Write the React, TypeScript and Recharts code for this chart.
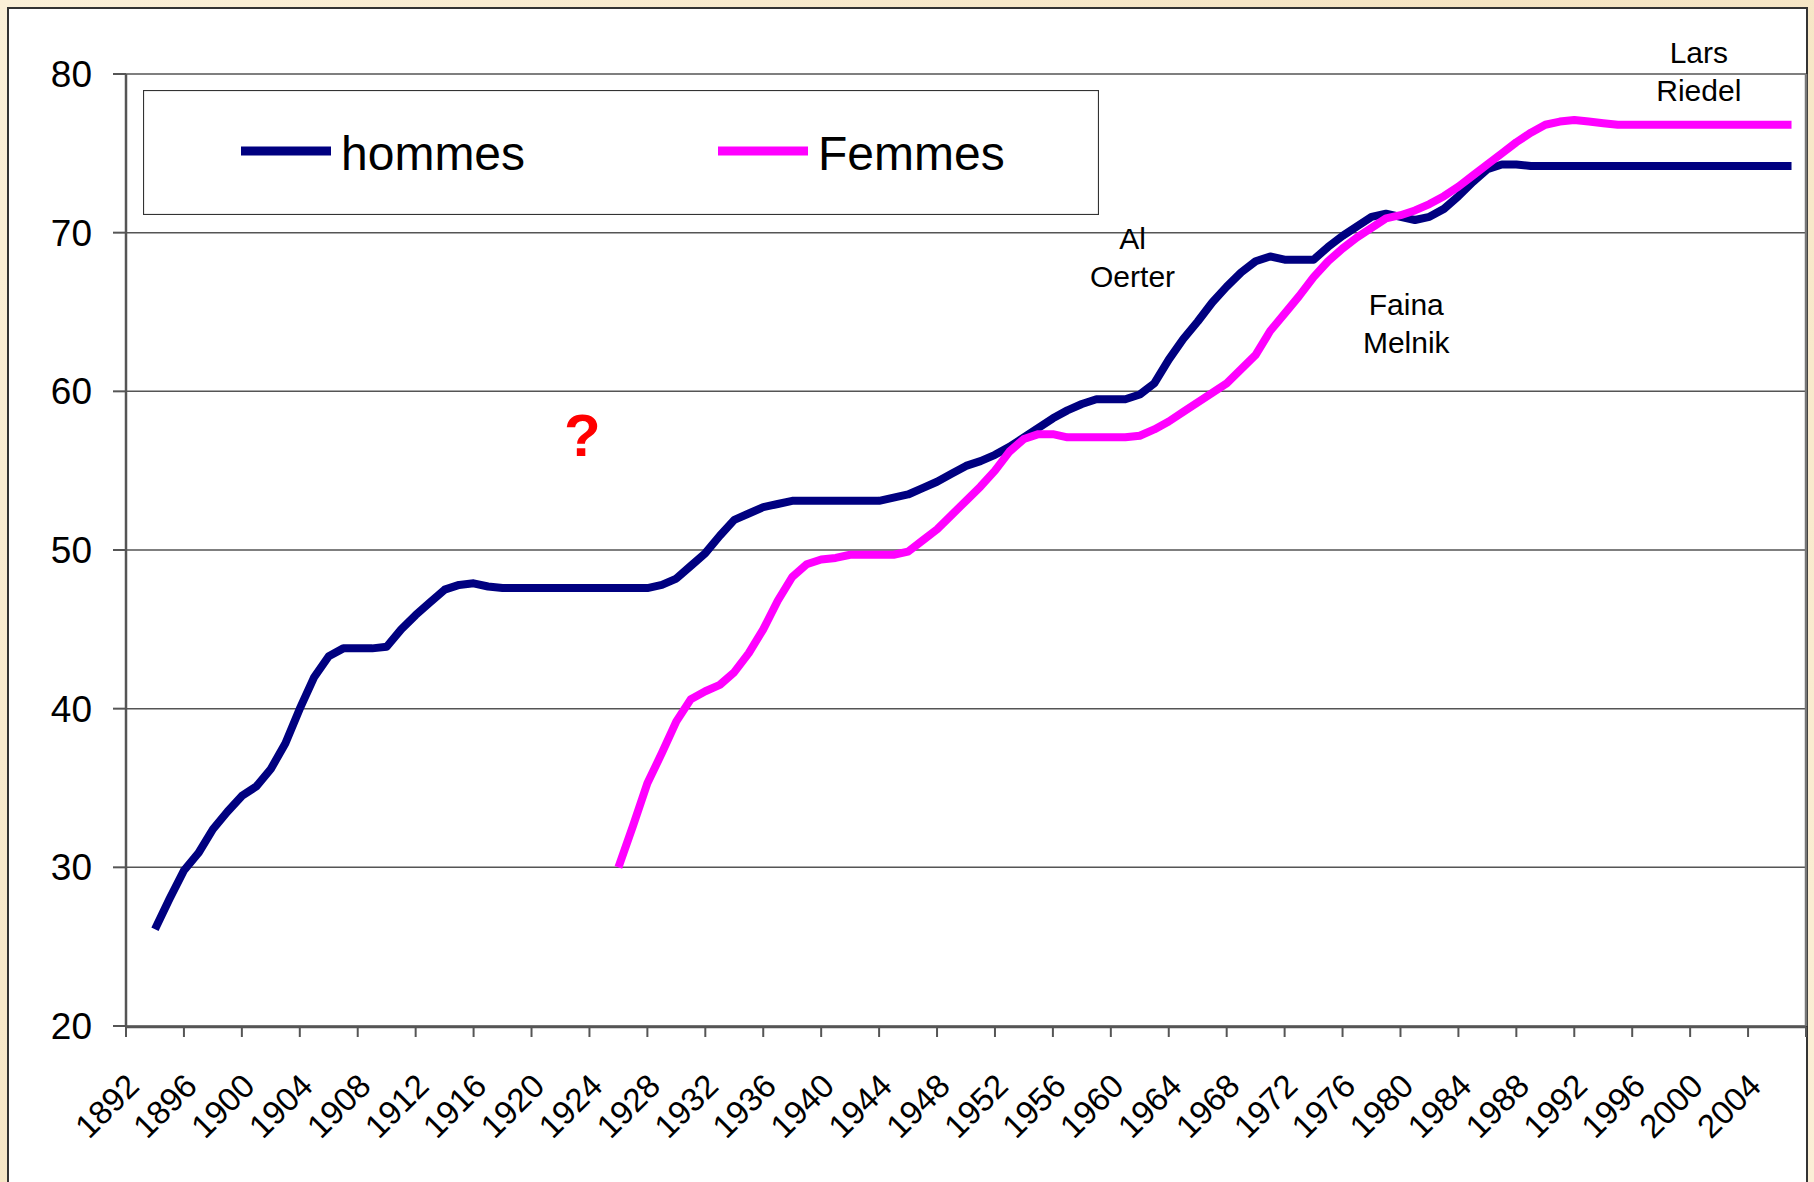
import React from "react";
import {
  LineChart,
  Line,
  XAxis,
  YAxis,
  CartesianGrid,
  ReferenceLine,
  ReferenceDot,
} from "recharts";

// discus records, one value per year
const hommesStart = 1892;
const hommes = [
  26.1, 28.0, 29.8, 30.9, 32.4, 33.5, 34.5, 35.1, 36.2, 37.8,
  40.0, 42.0, 43.3, 43.8, 43.8, 43.8, 43.9, 45.0, 45.9, 46.7,
  47.5, 47.8, 47.9, 47.7, 47.6, 47.6, 47.6, 47.6, 47.6, 47.6,
  47.6, 47.6, 47.6, 47.6, 47.6, 47.8, 48.2, 49.0, 49.8, 50.9,
  51.9, 52.3, 52.7, 52.9, 53.1, 53.1, 53.1, 53.1, 53.1, 53.1,
  53.1, 53.3, 53.5, 53.9, 54.3, 54.8, 55.3, 55.6, 56.0, 56.5,
  57.1, 57.7, 58.3, 58.8, 59.2, 59.5, 59.5, 59.5, 59.8, 60.5,
  62.0, 63.3, 64.4, 65.6, 66.6, 67.5, 68.2, 68.5, 68.3, 68.3,
  68.3, 69.1, 69.8, 70.4, 71.0, 71.2, 71.0, 70.8, 71.0, 71.5,
  72.3, 73.2, 74.0, 74.3, 74.3, 74.2, 74.2, 74.2, 74.2, 74.2,
  74.2, 74.2, 74.2, 74.2, 74.2, 74.2, 74.2, 74.2, 74.2, 74.2,
  74.2, 74.2, 74.2, 74.2,
];

const femmesStart = 1924;
const femmes = [
  30.0, 32.6, 35.3, 37.2, 39.2, 40.6, 41.1, 41.5, 42.3, 43.5,
  45.0, 46.8, 48.3, 49.1, 49.4, 49.5, 49.7, 49.7, 49.7, 49.7,
  49.9, 50.6, 51.3, 52.2, 53.1, 54.0, 55.0, 56.2, 57.0, 57.3,
  57.3, 57.1, 57.1, 57.1, 57.1, 57.1, 57.2, 57.6, 58.1, 58.7,
  59.3, 59.9, 60.5, 61.4, 62.3, 63.8, 64.9, 66.0, 67.2, 68.2,
  69.0, 69.7, 70.3, 70.9, 71.1, 71.4, 71.8, 72.3, 72.9, 73.6,
  74.3, 75.0, 75.7, 76.3, 76.8, 77.0, 77.1, 77.0, 76.9, 76.8,
  76.8, 76.8, 76.8, 76.8, 76.8, 76.8, 76.8, 76.8, 76.8, 76.8,
  76.8, 76.8,
];

const yTicks = [20, 30, 40, 50, 60, 70, 80];
const yearLabels = [
  1892, 1896, 1900, 1904, 1908, 1912, 1916, 1920, 1924, 1928,
  1932, 1936, 1940, 1944, 1948, 1952, 1956, 1960, 1964, 1968,
  1972, 1976, 1980, 1984, 1988, 1992, 1996, 2000, 2004,
];
const yearMarks = [
  1890, 1894, 1898, 1902, 1906, 1910, 1914, 1918, 1922, 1926,
  1930, 1934, 1938, 1942, 1946, 1950, 1954, 1958, 1962, 1966,
  1970, 1974, 1978, 1982, 1986, 1990, 1994, 1998, 2002, 2006,
];

const notes = [
  { year: 1959.5, value: 69.0, lines: ["Al", "Oerter"] },
  { year: 1978.4, value: 64.8, lines: ["Faina", "Melnik"] },
  { year: 1998.6, value: 80.7, lines: ["Lars", "Riedel"] },
];

const series = [
  { key: "hommes", name: "hommes", color: "#000080" },
  { key: "femmes", name: "Femmes", color: "#FF00FF" },
];

const data = hommes.map((h, i) => {
  const year = hommesStart + i;
  const f = year >= femmesStart ? femmes[year - femmesStart] : undefined;
  return { year, hommes: h, femmes: f ?? null };
});

const FONT = '"Liberation Sans", Arial, sans-serif';
const AXIS = "#555";

const EmptyTick = () => <g />;

const YearTick = (props: any) => {
  const { x, y, payload } = props;
  const ax = x - 14;
  const ay = y + 62;
  return (
    <text
      x={ax}
      y={ay}
      textAnchor="end"
      fontSize={33}
      fontFamily={FONT}
      fill="#000"
      transform={`rotate(-45, ${ax}, ${ay})`}
    >
      {payload.value}
    </text>
  );
};

const noteShape = (lines: string[]) => (p: any) => (
  <text
    x={p.cx}
    y={p.cy}
    textAnchor="middle"
    fontSize={30}
    fontFamily={FONT}
    fill="#000"
  >
    {lines.map((l, i) => (
      <tspan key={l} x={p.cx} dy={i === 0 ? 0 : 38}>
        {l}
      </tspan>
    ))}
  </text>
);

const questionShape = (p: any) => (
  <text
    x={p.cx}
    y={p.cy}
    textAnchor="middle"
    fontSize={60}
    fontWeight="bold"
    fontFamily={FONT}
    fill="#FF0000"
  >
    ?
  </text>
);

function LegendBox() {
  return (
    <svg
      width={956}
      height={125}
      style={{ position: "absolute", left: 143, top: 90 }}
    >
      <rect x={0.5} y={0.5} width={955} height={124} fill="#fff" stroke="#333" strokeWidth={1.2} />
      {series.map((s, i) => {
        const x0 = i === 0 ? 98 : 575;
        return (
          <g key={s.key}>
            <line x1={x0} x2={x0 + 90} y1={61} y2={61} stroke={s.color} strokeWidth={9} />
            <text x={x0 + 100} y={80} fontSize={48} fontFamily={FONT} fill="#000">
              {s.name}
            </text>
          </g>
        );
      })}
    </svg>
  );
}

export default function App() {
  return (
    <div
      style={{
        position: "fixed",
        left: 0,
        top: 0,
        width: 1814,
        height: 1182,
        overflow: "hidden",
        background: "linear-gradient(135deg, #fbf0d8 0%, #f5e4c2 50%, #fbefd6 100%)",
      }}
    >
      <div
        style={{
          position: "absolute",
          left: 7,
          top: 7,
          width: 1801,
          height: 1200,
          boxSizing: "border-box",
          border: "2px solid #333",
          background: "#fff",
        }}
      />
      <div style={{ position: "absolute", left: 0, top: 0 }}>
        <LineChart
          width={1814}
          height={1182}
          data={data}
          margin={{ top: 74, right: 8, left: 0, bottom: 56 }}
        >
          <CartesianGrid
            xAxisId="marks"
            horizontal
            vertical={false}
            stroke={AXIS}
            strokeWidth={1.5}
          />
          <XAxis
            xAxisId="marks"
            dataKey="year"
            type="number"
            domain={[1890, 2006]}
            ticks={yearMarks}
            interval={0}
            height={99}
            tick={EmptyTick}
            tickSize={10}
            tickLine={{ stroke: AXIS, strokeWidth: 2 }}
            axisLine={{ stroke: AXIS, strokeWidth: 2.5 }}
            allowDataOverflow
          />
          <XAxis
            xAxisId="labels"
            dataKey="year"
            type="number"
            domain={[1890, 2006]}
            ticks={yearLabels}
            interval={0}
            height={1}
            tick={<YearTick />}
            tickSize={0}
            tickMargin={0}
            tickLine={false}
            axisLine={false}
            allowDataOverflow
          />
          <YAxis
            domain={[20, 80]}
            ticks={yTicks}
            interval={0}
            width={126}
            tickSize={13}
            tickMargin={21}
            tick={{ fill: "#000", fontSize: 37, fontFamily: FONT }}
            tickLine={{ stroke: AXIS, strokeWidth: 2 }}
            axisLine={{ stroke: AXIS, strokeWidth: 2.5 }}
          />
          <ReferenceLine xAxisId="marks" x={2006} stroke="#777" strokeWidth={2.5} />
          {series.map((s) => (
            <Line
              key={s.key}
              xAxisId="marks"
              type="linear"
              dataKey={s.key}
              name={s.name}
              stroke={s.color}
              strokeWidth={8}
              strokeLinejoin="round"
              dot={false}
              activeDot={false}
              isAnimationActive={false}
            />
          ))}
          {notes.map((n) => (
            <ReferenceDot
              key={n.lines[0]}
              xAxisId="marks"
              x={n.year}
              y={n.value}
              r={0}
              ifOverflow="visible"
              shape={noteShape(n.lines)}
            />
          ))}
          <ReferenceDot
            xAxisId="marks"
            x={1921.5}
            y={55.9}
            r={0}
            ifOverflow="visible"
            shape={questionShape}
          />
        </LineChart>
      </div>
      <LegendBox />
    </div>
  );
}
